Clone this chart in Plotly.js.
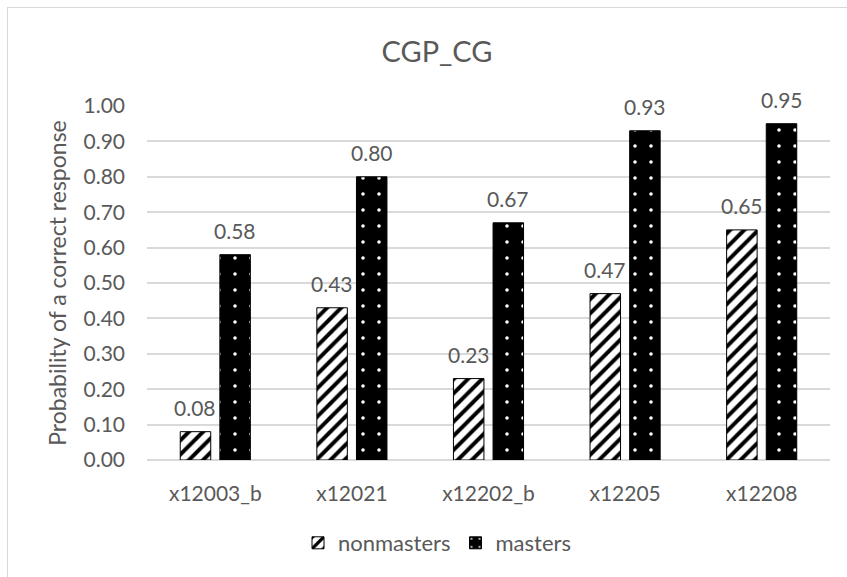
<!DOCTYPE html>
<html>
<head>
<meta charset="utf-8">
<script src="https://cdn.plot.ly/plotly-3.0.1.min.js"></script>
<style>
  html, body { margin: 0; padding: 0; background: #ffffff; }
  #frame { position: absolute; left: 7px; top: 7px; width: 950px; height: 650px;
           border: 1px solid #d9d9d9; box-sizing: border-box; }
  #chart { position: absolute; left: 0; top: 0; width: 847px; height: 577px; }
</style>
</head>
<body>
<div id="frame"></div>
<div id="chart"></div>
<script>
// Items and per-group probabilities of a correct response
const items = ['x12003_b', 'x12021', 'x12202_b', 'x12205', 'x12208'];
const nonmasters = [0.08, 0.43, 0.23, 0.47, 0.65];
const masters = [0.58, 0.80, 0.67, 0.93, 0.95];
const yTicks = [0, 0.1, 0.2, 0.3, 0.4, 0.5, 0.6, 0.7, 0.8, 0.9, 1.0];

const FONT = 'Lato, "Noto Sans", sans-serif';
const GREY = '#595959';
const BARGAP = 0.42;
const GROUPGAP = 0.23;

const traces = [
  {
    type: 'bar', name: 'nonmasters', x: items, y: nonmasters,
    marker: {
      color: '#ffffff',
      line: { color: '#000000', width: 1 },
      pattern: { shape: '/', fgcolor: '#000000', bgcolor: '#ffffff', size: 10, solidity: 0.4 }
    },
    hoverinfo: 'x+y'
  },
  {
    type: 'bar', name: 'masters', x: items, y: masters,
    marker: {
      color: '#000000',
      line: { color: '#000000', width: 1 },
      pattern: { shape: '.', fgcolor: '#ffffff', bgcolor: '#000000', size: 16, solidity: 0.04 }
    },
    hoverinfo: 'x+y'
  }
];

// Value labels above each bar, placed at the centre of the bar's slot in the group
const slot = (1 - BARGAP) / 2;
const annotations = [];
[nonmasters, masters].forEach((vals, k) => {
  const off = (k - 0.5) * slot;
  vals.forEach((v, i) => {
    annotations.push({
      x: i + off, y: v, xref: 'x', yref: 'y',
      text: v.toFixed(2), showarrow: false,
      yanchor: 'bottom', yshift: 10,
      font: { family: FONT, size: 21, color: GREY }
    });
  });
});

const layout = {
  width: 847, height: 577,
  margin: { l: 147, r: 17, t: 106, b: 117 },
  paper_bgcolor: 'rgba(0,0,0,0)',
  plot_bgcolor: 'rgba(0,0,0,0)',
  barmode: 'group',
  bargap: BARGAP,
  bargroupgap: GROUPGAP,
  title: {
    text: 'CGP_CG', xref: 'container', x: 437 / 847, xanchor: 'center',
    yref: 'container', y: 1 - 52 / 577, yanchor: 'middle',
    font: { family: FONT, size: 29, color: GREY }
  },
  xaxis: {
    type: 'category',
    showgrid: false, zeroline: false, showline: false,
    ticks: '', ticklabelstandoff: 19,
    tickfont: { family: FONT, size: 21, color: GREY }
  },
  yaxis: {
    range: [0, 1.0], tickvals: yTicks, tickformat: '.2f',
    showgrid: true, gridcolor: '#d9d9d9', gridwidth: 1.5,
    zeroline: true, zerolinecolor: '#d9d9d9', zerolinewidth: 1.5,
    showline: false, ticks: '', ticklabelstandoff: 21,
    tickfont: { family: FONT, size: 21, color: GREY },
    title: { text: 'Probability of a correct response', standoff: 10,
             font: { family: FONT, size: 23, color: GREY } }
  },
  legend: {
    orientation: 'h', xref: 'container', x: 437 / 847, xanchor: 'center',
    yref: 'container', y: 1 - 543 / 577, yanchor: 'middle',
    font: { family: FONT, size: 22, color: GREY }, itemwidth: 30,
    traceorder: 'normal'
  },
  annotations: annotations,
  showlegend: true
};

Plotly.newPlot('chart', traces, layout, { displayModeBar: false, responsive: false });
</script>
</body>
</html>
